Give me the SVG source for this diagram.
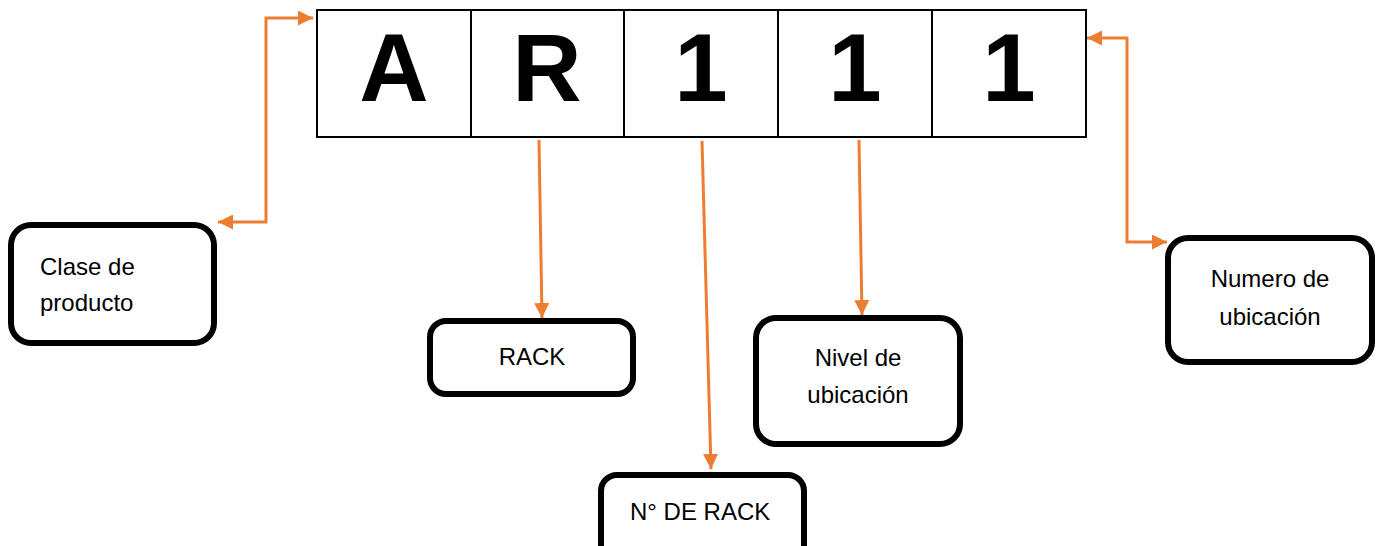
<svg xmlns="http://www.w3.org/2000/svg" width="1381" height="546" viewBox="0 0 1381 546">
  <style>
    .cell { fill: #fff; stroke: #000; stroke-width: 2; }
    .big { font-family: "Liberation Sans", Arial, sans-serif; font-weight: bold; font-size: 96px; fill: #000; text-anchor: middle; }
    .box { fill: #fff; stroke: #000; stroke-width: 6; }
    .lbl { font-family: "Liberation Sans", Arial, sans-serif; font-size: 24px; fill: #000; }
    .mid { text-anchor: middle; }
    .conn { fill: none; stroke: #ED7D31; stroke-width: 3; }
  </style>
  <defs>
    <marker id="arr" viewBox="0 0 10 10" refX="10" refY="5" markerWidth="5" markerHeight="5" markerUnits="strokeWidth" orient="auto-start-reverse">
      <path d="M0,0 L10,5 L0,10 Z" fill="#ED7D31"/>
    </marker>
  </defs>

  <rect width="1381" height="546" fill="#fff"/>

  <!-- code cells -->
  <g id="code">
    <rect class="cell" x="317" y="10" width="154" height="127"/>
    <rect class="cell" x="471" y="10" width="153" height="127"/>
    <rect class="cell" x="624" y="10" width="154" height="127"/>
    <rect class="cell" x="778" y="10" width="154" height="127"/>
    <rect class="cell" x="932" y="10" width="154" height="127"/>
    <text class="big" x="394" y="101">A</text>
    <text class="big" x="547" y="101">R</text>
    <text class="big" x="701" y="101">1</text>
    <text class="big" x="855" y="101">1</text>
    <text class="big" x="1009" y="101">1</text>
  </g>

  <g id="clase">
    <rect class="box" x="11" y="225" width="203" height="118" rx="20"/>
    <text class="lbl" x="40" y="275">Clase de</text>
    <text class="lbl" x="40" y="311">producto</text>
  </g>

  <g id="rack">
    <rect class="box" x="430" y="321" width="203" height="73" rx="16"/>
    <text class="lbl mid" x="532" y="365">RACK</text>
  </g>

  <g id="nrack">
    <rect class="box" x="601" y="475" width="203" height="90" rx="16"/>
    <text class="lbl" x="630" y="520">N° DE RACK</text>
  </g>

  <g id="nivel">
    <rect class="box" x="756" y="318" width="204" height="126" rx="20"/>
    <text class="lbl mid" x="858" y="366">Nivel de</text>
    <text class="lbl mid" x="858" y="403">ubicación</text>
  </g>

  <g id="numero">
    <rect class="box" x="1168" y="238" width="204" height="124" rx="20"/>
    <text class="lbl mid" x="1270" y="287">Numero de</text>
    <text class="lbl mid" x="1270" y="325">ubicación</text>
  </g>

  <g id="connectors">
    <polyline class="conn" points="218,222 266,222 266,18 313,18" marker-start="url(#arr)" marker-end="url(#arr)"/>
    <line class="conn" x1="539" y1="140" x2="542" y2="318" marker-end="url(#arr)"/>
    <line class="conn" x1="702" y1="141" x2="711" y2="469" marker-end="url(#arr)"/>
    <line class="conn" x1="859" y1="140" x2="862" y2="315" marker-end="url(#arr)"/>
    <polyline class="conn" points="1087,38 1127,38 1127,242 1167,242" marker-start="url(#arr)" marker-end="url(#arr)"/>
  </g>
</svg>
